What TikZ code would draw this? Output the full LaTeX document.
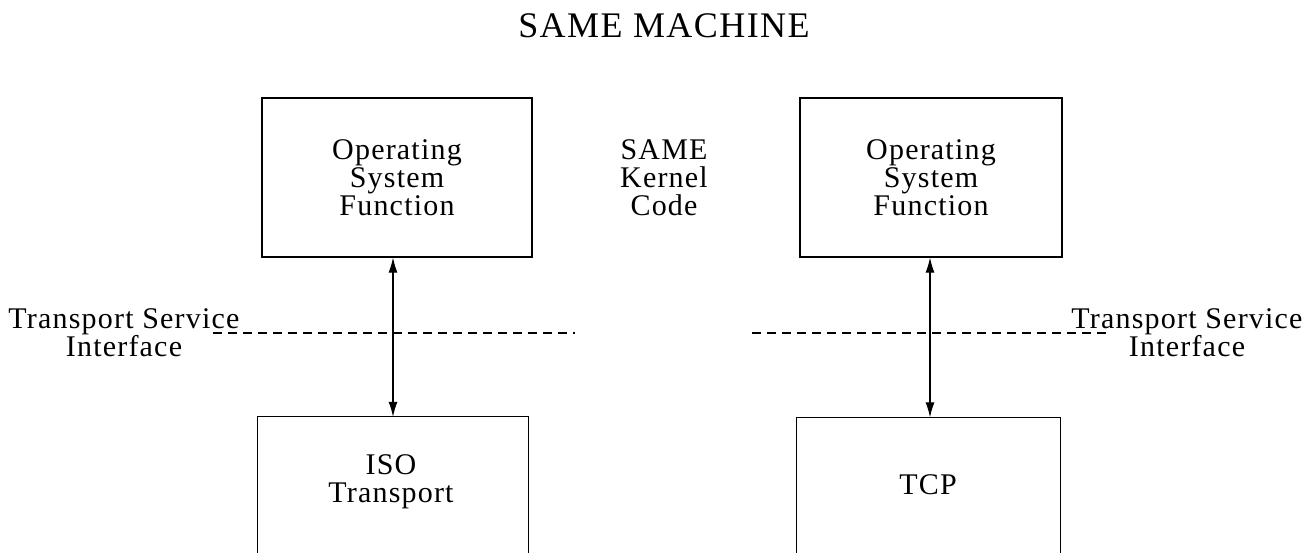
\documentclass[tikz,border=0pt]{standalone}
\usepackage{fontspec}
\setmainfont{Liberation Serif}[LetterSpace=4]
\usetikzlibrary{arrows.meta}
\begin{document}
\begin{tikzpicture}[x=1pt,y=-1pt,
  txt/.style={font=\fontsize{30}{28}\selectfont, align=center, inner sep=0pt},
  boxn/.style={draw, line width=1.3pt, minimum width=#1, minimum height=159pt, inner sep=0pt,
    font=\fontsize{30}{28}\selectfont, align=center},
  openbox/.style={minimum width=#1, minimum height=136pt, inner sep=0pt},
  sides/.style={line width=1.3pt},
  tsi/.style={dash pattern=on 9pt off 6pt, line width=2.4pt},
  link/.style={line width=1.1pt, {Latex[length=15pt,width=9pt]}-{Latex[length=15pt,width=9pt]}}
]
\useasboundingbox (0,0) rectangle (1306,553);
% title
\node[font=\fontsize{36}{38}\selectfont, inner sep=0pt] (title) at (664,26) {SAME MACHINE};
% top boxes
\node[boxn=270pt] (osf1) at (397,177.5) {Operating\\System\\Function};
\node[boxn=262pt] (osf2) at (931,177.5) {Operating\\System\\Function};
\node[txt] (kernel) at (664,178) {SAME\\Kernel\\Code};
% bottom open boxes
\node[openbox=270pt] (iso) at (393,485) {};
\node[openbox=263pt] (tcp) at (928.5,485.5) {};
\draw[sides] (iso.south west) -- (iso.north west) -- (iso.north east) -- (iso.south east);
\draw[sides] (tcp.south west) -- (tcp.north west) -- (tcp.north east) -- (tcp.south east);
\node[txt] (isotext) at (391,482) {ISO\\Transport};
\node[txt] (tcptext) at (928,485) {TCP};
% interfaces
\node[txt] (tsil) at (124,333) {Transport Service\\Interface};
\node[txt] (tsir) at (1187,333) {Transport Service\\Interface};
\coordinate (dl1) at (213,333);
\coordinate (dl2) at (575,333);
\coordinate (dr1) at (752,333);
\coordinate (dr2) at (1107,333);
\draw[tsi] (dl1) -- (dl2);
\draw[tsi] (dr1) -- (dr2);
% arrows
\draw[link] (iso.north |- osf1.south) -- (iso.north);
\draw[link] ([xshift=1.5pt]tcp.north |- osf2.south) -- ([xshift=1.5pt]tcp.north);
\end{tikzpicture}
\end{document}
